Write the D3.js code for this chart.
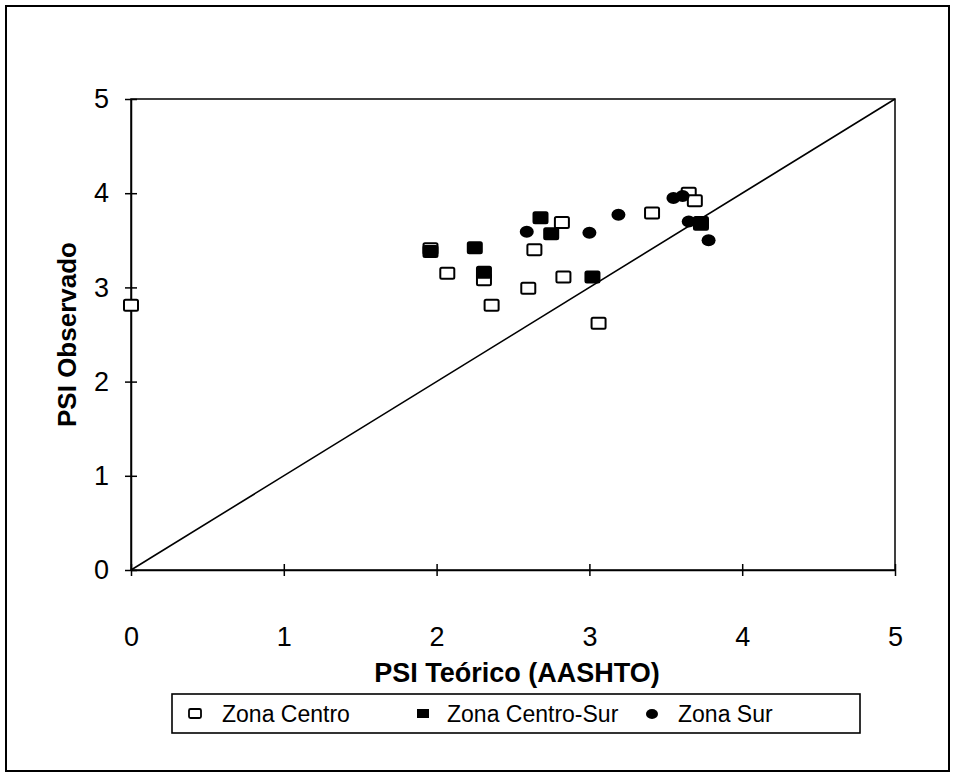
<!DOCTYPE html>
<html><head><meta charset="utf-8">
<script src="https://cdn.jsdelivr.net/npm/d3@7"></script>
<style>body{margin:0;background:#fff}svg{display:block}text{font-family:"Liberation Sans",Arial,sans-serif;fill:#000}</style>
</head><body>
<svg id="c" width="956" height="779"></svg>
<script>
const xTicks = [0,1,2,3,4,5];
const yTicks = [0,1,2,3,4,5];
const seriesNames = ["Zona Centro","Zona Centro-Sur","Zona Sur"];
const centroX = [0.00,1.96,2.07,2.31,2.36,2.60,2.64,2.82,2.83,3.06,3.41,3.65,3.69,3.73];
const centroY = [2.81,3.41,3.15,3.08,2.81,2.99,3.40,3.69,3.11,2.62,3.79,4.00,3.92,3.67];
const centroSurX = [1.96,2.25,2.31,2.68,2.75,3.02,3.73];
const centroSurY = [3.38,3.42,3.16,3.74,3.57,3.11,3.69];
const surX = [2.59,3.00,3.19,3.55,3.61,3.65,3.78];
const surY = [3.59,3.58,3.77,3.95,3.97,3.70,3.50];
const lineX = [0,5];
const lineY = [0,5];

const svg = d3.select("#c");
const x = d3.scaleLinear().domain([0,5]).range([131,895]);
const y = d3.scaleLinear().domain([0,5]).range([570,99]);

// outer frame
svg.append("rect").attr("x",6).attr("y",6).attr("width",943).attr("height",765)
  .attr("fill","none").attr("stroke","#000").attr("stroke-width",2);

// plot frame
svg.append("rect").attr("x",x(0)).attr("y",y(5)).attr("width",x(5)-x(0)).attr("height",y(0)-y(5))
  .attr("fill","none").attr("stroke","#000").attr("stroke-width",1.5);

// axes
const xAxis = d3.axisBottom(x).tickValues(xTicks).tickSizeInner(6).tickSizeOuter(0).tickFormat(d3.format("d"));
const gx = svg.append("g").attr("transform",`translate(0,${y(0)})`).call(xAxis);
gx.select(".domain").attr("stroke-width",1.5);
gx.selectAll(".tick line").attr("y1",-6).attr("stroke-width",1.5);
gx.selectAll("text").style("font-size","27px").attr("y",76).attr("dy","0");

const yAxis = d3.axisLeft(y).tickValues(yTicks).tickSizeInner(6).tickSizeOuter(0).tickPadding(16).tickFormat(d3.format("d"));
const gy = svg.append("g").attr("transform",`translate(${x(0)},0)`).call(yAxis);
gy.select(".domain").attr("stroke-width",1.5);
gy.selectAll(".tick line").attr("x1",6).attr("x2",-6).attr("stroke-width",1.5);
gy.selectAll("text").style("font-size","27px");

// titles
svg.append("text").attr("x",(x(0)+x(5))/2+4).attr("y",682).attr("text-anchor","middle")
  .style("font-size","27px").style("font-weight","bold").text("PSI Teórico (AASHTO)");
svg.append("text").attr("transform",`translate(76,${(y(0)+y(5))/2}) rotate(-90)`).attr("text-anchor","middle")
  .style("font-size","26px").style("font-weight","bold").text("PSI Observado");

// diagonal line
svg.append("path").datum(lineX.map((d,i)=>[d,lineY[i]]))
  .attr("d",d3.line().x(d=>x(d[0])).y(d=>y(d[1])))
  .attr("fill","none").attr("stroke","#000").attr("stroke-width",1.6);

const mw = 14, mh = 11;
function drawSquares(xs, ys, filled){
  svg.append("g").selectAll("rect").data(xs.map((d,i)=>[d,ys[i]])).join("rect")
    .attr("x",d=>x(d[0])-mw/2).attr("y",d=>y(d[1])-mh/2).attr("width",mw).attr("height",mh)
    .attr("rx",1.5)
    .attr("fill",filled?"#000":"#fff").attr("stroke","#000").attr("stroke-width",2);
}
drawSquares(centroX, centroY, false);
drawSquares(centroSurX, centroSurY, true);
svg.append("g").selectAll("ellipse").data(surX.map((d,i)=>[d,surY[i]])).join("ellipse")
  .attr("cx",d=>x(d[0])).attr("cy",d=>y(d[1])).attr("rx",7).attr("ry",6).attr("fill","#000");

// legend
svg.append("rect").attr("x",172).attr("y",694).attr("width",688).attr("height",39)
  .attr("fill","none").attr("stroke","#000").attr("stroke-width",1.6);
const legX = [195,423,652];
const legTX = [222,447,678];
const ly = 714;
svg.append("rect").attr("x",legX[0]-6).attr("y",ly-5).attr("width",12).attr("height",9).attr("rx",1.5)
  .attr("fill","#fff").attr("stroke","#000").attr("stroke-width",1.8);
svg.append("rect").attr("x",legX[1]-6).attr("y",ly-5).attr("width",12).attr("height",9).attr("fill","#000");
svg.append("ellipse").attr("cx",legX[2]).attr("cy",ly).attr("rx",6).attr("ry",5).attr("fill","#000");
seriesNames.forEach((n,i)=>{
  svg.append("text").attr("x",legTX[i]).attr("y",ly).attr("dy","0.36em").style("font-size","23px").text(n);
});
</script>
</body></html>
